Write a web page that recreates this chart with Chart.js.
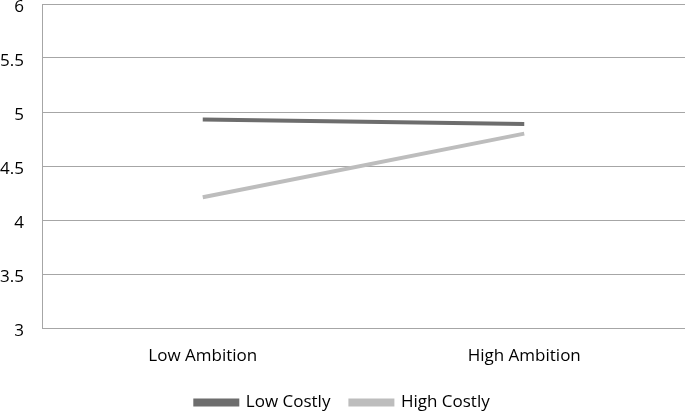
<!DOCTYPE html>
<html>
<head>
<meta charset="utf-8">
<script src="https://cdn.jsdelivr.net/npm/chart.js@4"></script>
<style>
	html, body { margin: 0; padding: 0; background: #fff; }
	#wrap { width: 685px; height: 411px; }
</style>
</head>
<body>
<div id="wrap"><canvas id="chart"></canvas></div>
<script>
// data
const categories = ['Low Ambition', 'High Ambition'];
const lowCostly = [4.93, 4.89];
const highCostly = [4.21, 4.80];
const yTicks = [3, 3.5, 4, 4.5, 5, 5.5, 6];

document.addEventListener('DOMContentLoaded', function () {
	const ctx = document.getElementById('chart').getContext('2d');
	Chart.defaults.font.family = "'Open Sans', 'Noto Sans', sans-serif";
	Chart.defaults.font.size = 17;
	Chart.defaults.color = '#000';

	new Chart(ctx, {
		type: 'line',
		data: {
			labels: categories,
			datasets: [
				{
					label: 'Low Costly',
					data: lowCostly,
					borderColor: '#6d6d6d',
					backgroundColor: '#6d6d6d',
					borderWidth: 4,
					pointRadius: 0,
					tension: 0,
				},
				{
					label: 'High Costly',
					data: highCostly,
					borderColor: '#bdbdbd',
					backgroundColor: '#bdbdbd',
					borderWidth: 4,
					pointRadius: 0,
					tension: 0,
				},
			],
		},
		options: {
			responsive: true,
			maintainAspectRatio: false,
			animation: false,
			layout: { padding: { top: 0, right: 0, bottom: -10, left: 0 } },
			plugins: {
				tooltip: { enabled: false },
				legend: {
					position: 'bottom',
					labels: {
						boxWidth: 42,
						boxHeight: 4,
						padding: 20,
					},
				},
			},
			scales: {
				x: {
					offset: true,
					grid: { display: false, drawTicks: false },
					border: { color: '#a6a6a6' },
					ticks: { padding: 18 },
					afterFit: scale => {
						scale.height = 46;
					},
				},
				y: {
					min: 3,
					max: 6,
					afterBuildTicks: scale => {
						scale.ticks = yTicks.map(v => ({ value: v }));
					},
					afterFit: scale => {
						scale.width = 42;
						// tick padding gets added to the top room, drop it
						scale.paddingTop = 4;
					},
					grid: { color: '#a6a6a6', drawTicks: false },
					border: { color: '#a6a6a6' },
					ticks: {
						padding: 18,
						labelOffset: 3,
						callback: v => String(v),
					},
				},
			},
		},
	});
});
</script>
</body>
</html>
